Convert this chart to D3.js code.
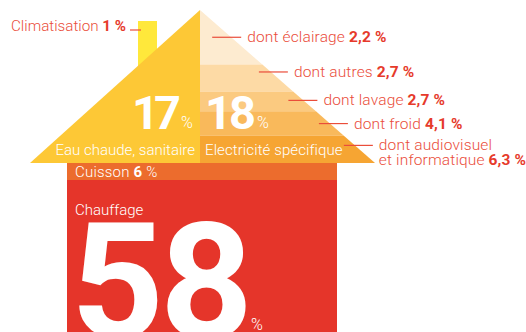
<!DOCTYPE html>
<html>
<head>
<meta charset="utf-8">
<script src="https://cdn.jsdelivr.net/npm/d3@7"></script>
<style>
  body { margin: 0; background: #fff; }
  svg { display: block; font-family: Roboto, "Liberation Sans", sans-serif; }
</style>
</head>
<body>
<svg id="chart" width="526" height="332"></svg>
<script>
// Shares of household energy use (%)
const categories = ["Chauffage", "Eau chaude, sanitaire", "Electricité spécifique", "Cuisson", "Climatisation"];
const shares = [58, 17, 18, 6, 1];

// Breakdown of "Electricité spécifique" (top to bottom in the roof)
const elecLabels = ["dont éclairage", "dont autres", "dont lavage", "dont froid", "dont audiovisuel|et informatique"];
const elecValues = [2.2, 2.7, 2.7, 4.1, 6.3];

const svg = d3.select("#chart");
const fmt = v => String(v).replace(".", ",") + " %";
const share = name => shares[categories.indexOf(name)];

// house geometry
const apex = {x: 200, y: 10};
const roofBase = 163;
const roofLeft = 30, roofRight = 375;
const body = {x0: 67, x1: 337};
const cuissonBottom = 180;

const red = "#e5352a";
const labelRed = "#ea4d3a";

// edge of right roof at a given y
const edgeX = y => apex.x + (roofRight - apex.x) * (y - apex.y) / (roofBase - apex.y);

// chimney (climatisation)
svg.append("rect")
  .attr("x", 138).attr("y", 21)
  .attr("width", 19).attr("height", 60)
  .attr("fill", "#ffe83b");

// left half of roof: eau chaude
svg.append("path")
  .attr("d", d3.line()([[apex.x, apex.y], [apex.x, roofBase], [roofLeft, roofBase]]) + "Z")
  .attr("fill", "#fdc836");

// right half: stacked layers sized by area
const cum = d3.cumsum(elecValues);
const yLayer = d3.scaleSqrt()
  .domain([0, d3.sum(elecValues)])
  .range([apex.y, roofBase + 3]);
const layerColor = d3.scaleOrdinal()
  .domain(elecLabels)
  .range(["#fdebd0", "#fddaa5", "#fbca80", "#f9b95b", "#f6a533"]);

const layers = elecLabels.map((name, i) => {
  const y0 = yLayer(i === 0 ? 0 : cum[i - 1]);
  const y1 = Math.min(yLayer(cum[i]), roofBase);
  return {name, value: elecValues[i], y0, y1};
});

svg.append("g").selectAll("path")
  .data(layers)
  .join("path")
    .attr("d", d => d3.line()([[apex.x, d.y0], [edgeX(d.y0), d.y0], [edgeX(d.y1), d.y1], [apex.x, d.y1]]) + "Z")
    .attr("fill", d => layerColor(d.name));

// body: cuisson band + chauffage block
svg.append("rect")
  .attr("x", body.x0).attr("y", roofBase)
  .attr("width", body.x1 - body.x0).attr("height", cuissonBottom - roofBase)
  .attr("fill", "#ec6c2d");
svg.append("rect")
  .attr("x", body.x0).attr("y", cuissonBottom)
  .attr("width", body.x1 - body.x0).attr("height", 332 - cuissonBottom)
  .attr("fill", red);

// roof labels (small offsets so they sit like the original)
const nudgeY = [0, -6, -1, 0, -4];
const nudgeX = [-7, 0, -3, 1, 1];
const lab = svg.append("g").selectAll("g")
  .data(layers)
  .join("g")
    .attr("transform", (d, i) => {
      const y = (d.y0 + d.y1) / 2 + nudgeY[i];
      return `translate(${edgeX(y) + nudgeX[i]},${y})`;
    });
lab.append("line")
  .attr("x1", -12).attr("x2", 17)
  .attr("stroke", labelRed).attr("stroke-width", 1.2);
lab.each(function(d) {
  const parts = d.name.split("|");
  const t = d3.select(this).append("text")
    .attr("x", 23).attr("y", 5)
    .attr("font-size", 15.5).attr("fill", labelRed).attr("font-weight", 300)
    .attr("letter-spacing", 0.15);
  parts.forEach((p, j) => {
    t.append("tspan").attr("x", 23).attr("dy", j ? 15 : 0)
      .text(p + (j === parts.length - 1 ? " " : ""));
    if (j === parts.length - 1) {
      t.append("tspan").attr("font-weight", 700).attr("fill", "#e63a2b").text(fmt(d.value));
    }
  });
});

// climatisation label
const clim = svg.append("g");
clim.append("line").attr("x1", 130).attr("x2", 141).attr("y1", 30).attr("y2", 30)
  .attr("stroke", labelRed).attr("stroke-width", 1.2);
const ct = clim.append("text").attr("x", 126).attr("y", 31).attr("text-anchor", "end")
  .attr("font-size", 15.2).attr("fill", labelRed).attr("font-weight", 300);
ct.append("tspan").text("Climatisation ");
ct.append("tspan").attr("font-weight", 700).attr("fill", "#e63a2b").text(fmt(share("Climatisation")));

// big white numbers
const white = "#fff";
svg.append("text").attr("x", 176).attr("y", 129).attr("text-anchor", "end")
  .attr("font-size", 47).attr("font-weight", 700).attr("fill", white)
  .attr("letter-spacing", -5)
  .text(share("Eau chaude, sanitaire"));
svg.append("text").attr("x", 181).attr("y", 128)
  .attr("font-size", 16).attr("font-weight", 300).attr("fill", white).text("%");
svg.append("text").attr("x", 205).attr("y", 129)
  .attr("font-size", 47).attr("font-weight", 700).attr("fill", white)
  .attr("letter-spacing", -3)
  .text(share("Electricité spécifique"));
svg.append("text").attr("x", 257).attr("y", 128)
  .attr("font-size", 16).attr("font-weight", 300).attr("fill", white).text("%");

svg.append("text").attr("x", apex.x - 5).attr("y", 155).attr("text-anchor", "end")
  .attr("font-size", 15).attr("font-weight", 300).attr("fill", white).text("Eau chaude, sanitaire");
svg.append("text").attr("x", apex.x + 5).attr("y", 155)
  .attr("font-size", 15).attr("font-weight", 300).attr("fill", white)
  .attr("letter-spacing", 0.1).text("Electricité spécifique");

const cu = svg.append("text").attr("x", 75).attr("y", 177)
  .attr("font-size", 15).attr("font-weight", 300).attr("fill", white)
  .attr("letter-spacing", 0.2);
cu.append("tspan").text("Cuisson ");
cu.append("tspan").attr("font-weight", 700).text(share("Cuisson"));
cu.append("tspan").text(" %");

svg.append("text").attr("x", 75).attr("y", 215)
  .attr("font-size", 15).attr("font-weight", 300).attr("fill", white).text("Chauffage");
svg.append("text").attr("x", 71).attr("y", 337)
  .attr("font-size", 162).attr("font-weight", 700).attr("fill", white)
  .attr("letter-spacing", -4)
  .text(share("Chauffage"));
svg.append("text").attr("x", 251).attr("y", 330)
  .attr("font-size", 16).attr("font-weight", 300).attr("fill", white).text("%");
</script>
</body>
</html>
